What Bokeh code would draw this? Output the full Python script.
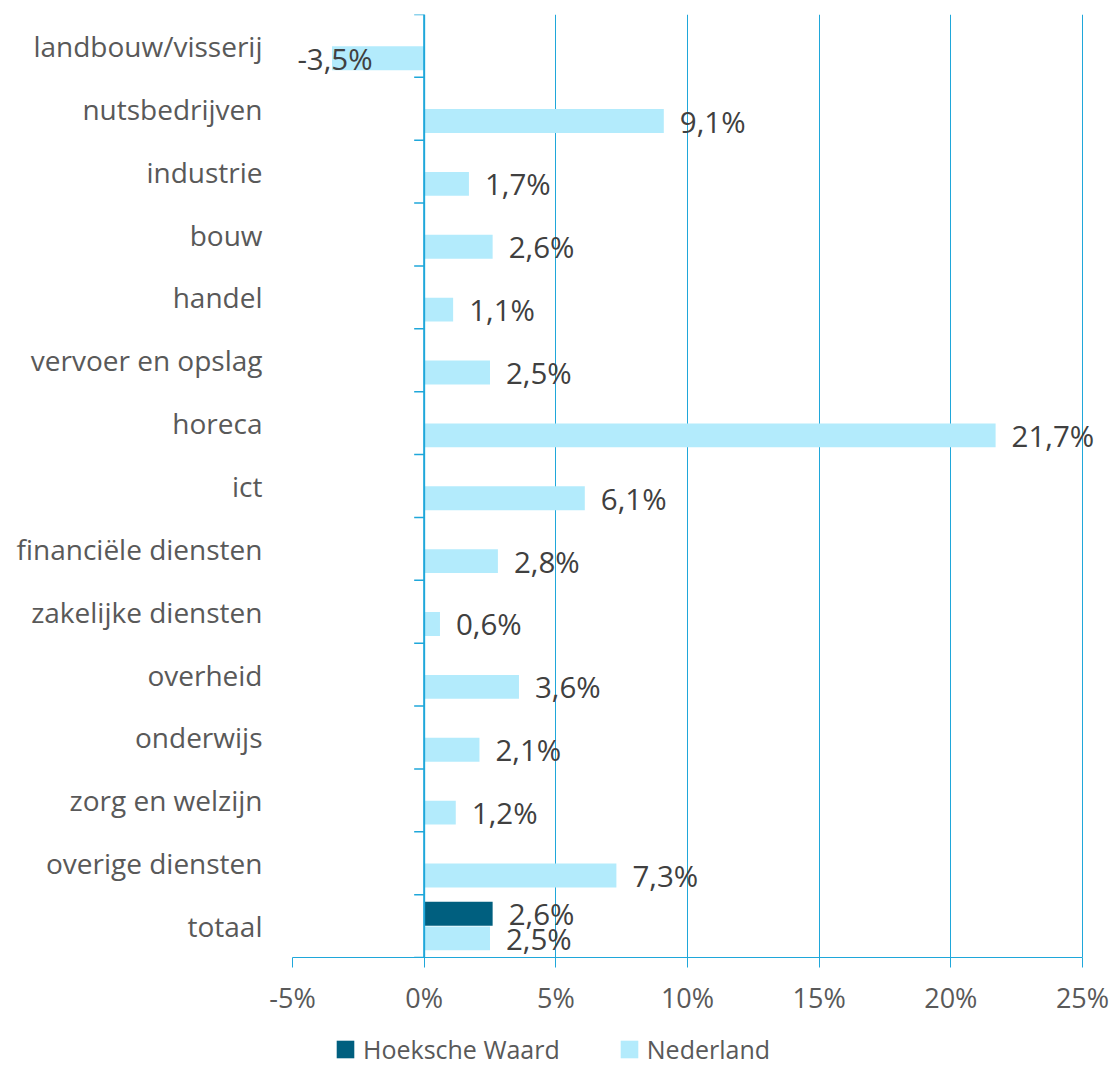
import math
from bokeh.plotting import figure
from bokeh.layouts import column
from bokeh.models import (FactorRange, Range1d, FixedTicker, PrintfTickFormatter,
                          ColumnDataSource, Span, Legend, LegendItem)
from bokeh.transform import dodge
from bokeh.embed import file_html
from bokeh.resources import INLINE
from bokeh.core.properties import value

# ---------------- data ----------------
categories = ["landbouw/visserij", "nutsbedrijven", "industrie", "bouw", "handel",
              "vervoer en opslag", "horeca", "ict", "financiële diensten",
              "zakelijke diensten", "overheid", "onderwijs", "zorg en welzijn",
              "overige diensten", "totaal"]
nederland = [-3.5, 9.1, 1.7, 2.6, 1.1, 2.5, 21.7, 6.1, 2.8, 0.6, 3.6, 2.1, 1.2, 7.3, 2.5]
hoeksche_waard = [None] * 14 + [2.6]
x_ticks = [-5, 0, 5, 10, 15, 20, 25]
series_names = ["Hoeksche Waard", "Nederland"]

# ---------------- style ----------------
FONT = "Open Sans"
GRID = "#1FA7DA"
C_NL = "#B3EBFC"
C_HW = "#005F7F"
TXT_LBL = "#404040"
TXT_AX = "#595959"
AXIS_W, FRAME_H = 790, 943          # pixel length of the -5%..25% axis
X_MIN, X_MAX = -5, 25
PAD_PX = 16                          # extra room right of 25% so labels are not clipped
BORDER_L, BORDER_T, BORDER_R, BORDER_B = 292, 14, 12, 58
TOTAL_W = BORDER_L + AXIS_W + PAD_PX + BORDER_R
MAIN_H = BORDER_T + FRAME_H + BORDER_B
LEG_H = 1065 - MAIN_H
BAR_H = 0.38
OFF = 0.195

px_per_unit = AXIS_W / (X_MAX - X_MIN)
X_VIEW_MAX = X_MAX + PAD_PX / px_per_unit

def fmt(v):
    return f"{v:.1f}".replace(".", ",") + "%"

factors = list(reversed(categories))

fig = figure(y_range=FactorRange(factors=factors), x_range=Range1d(X_MIN, X_VIEW_MAX),
             frame_width=AXIS_W + PAD_PX, frame_height=FRAME_H,
             min_border_left=BORDER_L, min_border_top=BORDER_T,
             min_border_right=BORDER_R, min_border_bottom=BORDER_B,
             output_backend="svg", toolbar_location=None)
fig.outline_line_color = None
fig.background_fill_color = "white"
fig.border_fill_color = "white"

# bars
nl_src = ColumnDataSource(dict(cat=categories, val=nederland,
                               lbl=[fmt(v) for v in nederland]))
hw_cats = [c for c, v in zip(categories, hoeksche_waard) if v is not None]
hw_vals = [v for v in hoeksche_waard if v is not None]
hw_src = ColumnDataSource(dict(cat=hw_cats, val=hw_vals, lbl=[fmt(v) for v in hw_vals]))

fig.hbar(y=dodge("cat", -OFF, range=fig.y_range), left=0, right="val", height=BAR_H,
         source=nl_src, fill_color=C_NL, line_color=None)
fig.hbar(y=dodge("cat", OFF, range=fig.y_range), left=0, right="val", height=BAR_H,
         source=hw_src, fill_color=C_HW, line_color=None)

# data labels
pos_nl = ColumnDataSource(dict(cat=[c for c, v in zip(categories, nederland) if v >= 0],
                               val=[v for v in nederland if v >= 0],
                               lbl=[fmt(v) for v in nederland if v >= 0]))
neg_nl = ColumnDataSource(dict(cat=[c for c, v in zip(categories, nederland) if v < 0],
                               val=[v for v in nederland if v < 0],
                               lbl=[fmt(v) for v in nederland if v < 0]))
common = dict(text="lbl", text_font=value(FONT), text_font_size="29.5px",
              text_color=TXT_LBL, text_baseline="middle")
fig.text(x="val", y=dodge("cat", -OFF, range=fig.y_range), source=pos_nl,
         text_align="left", x_offset=16, **common)
fig.text(x="val", y=dodge("cat", -OFF, range=fig.y_range), source=neg_nl,
         text_align="center", x_offset=3, **common)
fig.text(x="val", y=dodge("cat", OFF, range=fig.y_range), source=hw_src,
         text_align="left", x_offset=16, **common)

# vertical zero axis and its category-boundary ticks
fig.add_layout(Span(location=0, dimension="height", line_color=GRID, line_width=2))
tick_len = 10 / px_per_unit
bounds = list(range(len(categories) + 1))
fig.segment(x0=[0] * len(bounds), x1=[-tick_len] * len(bounds), y0=bounds, y1=bounds,
            line_color=GRID, line_width=1.5)

# x axis / grid
fig.xaxis.ticker = FixedTicker(ticks=x_ticks)
fig.xaxis.bounds = (X_MIN, X_MAX)
fig.xaxis.formatter = PrintfTickFormatter(format="%d%%")
fig.xaxis.axis_line_color = GRID
fig.xaxis.major_tick_line_color = GRID
fig.xaxis.major_tick_out = 10
fig.xaxis.major_tick_in = 0
fig.xaxis.minor_tick_line_color = None
fig.xaxis.major_label_standoff = 11
fig.xaxis.major_label_text_font = FONT
fig.xaxis.major_label_text_font_size = "27px"
fig.xaxis.major_label_text_color = TXT_AX
fig.xgrid.ticker = FixedTicker(ticks=x_ticks)
fig.xgrid.grid_line_color = GRID
fig.ygrid.grid_line_color = None

# y axis (category labels)
fig.yaxis.axis_line_color = None
fig.yaxis.major_tick_line_color = None
fig.yaxis.minor_tick_line_color = None
fig.yaxis.major_label_standoff = 24
fig.yaxis.major_label_text_font = FONT
fig.yaxis.major_label_text_font_size = "28px"
fig.yaxis.major_label_text_color = TXT_AX

# legend strip (separate small figure under the chart; swatch renderers have zero width)
lf = figure(width=TOTAL_W, height=LEG_H, x_range=Range1d(0, 1), y_range=Range1d(0, 1),
            x_axis_type=None, y_axis_type=None, min_border=0,
            output_backend="svg", toolbar_location=None)
lf.outline_line_color = None
lf.grid.grid_line_color = None
swatch = dict(y=[0.5], right=[0])
hw_leg = lf.hbar(y="y", left=0, right="right", height=0.5, source=ColumnDataSource(swatch),
                 fill_color=C_HW, line_color=None)
nl_leg = lf.hbar(y="y", left=0, right="right", height=0.5, source=ColumnDataSource(swatch),
                 fill_color=C_NL, line_color=None)
legend = Legend(items=[LegendItem(label=series_names[0], renderers=[hw_leg]),
                       LegendItem(label=series_names[1], renderers=[nl_leg])],
                orientation="horizontal", location=(42, 2),
                glyph_width=22, glyph_height=22, label_standoff=7, spacing=58,
                padding=0, margin=0, border_line_color=None, background_fill_alpha=0,
                label_text_font=FONT, label_text_font_size="25px", label_text_color=TXT_AX)
lf.add_layout(legend, "center")

p = column(fig, lf, spacing=0)
open("out.html", "w").write(file_html(p, INLINE))
